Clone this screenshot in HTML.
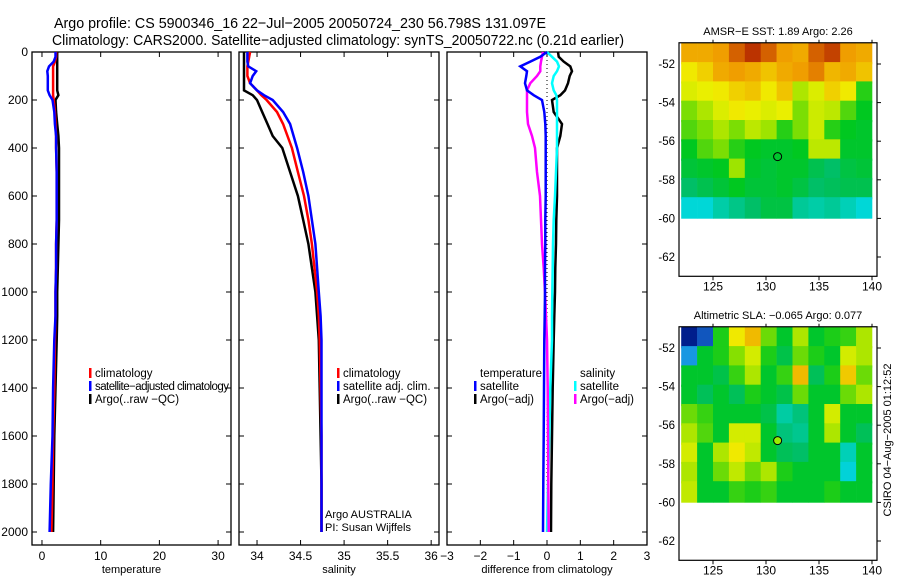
<!DOCTYPE html>
<html><head><meta charset="utf-8"><style>
body{margin:0;background:#fff;}
svg{display:block;font-family:"Liberation Sans",sans-serif;}
</style></head><body>
<svg id="c" width="900" height="580" viewBox="0 0 900 580" xmlns="http://www.w3.org/2000/svg">
<text x="54" y="28" font-size="15" textLength="492" lengthAdjust="spacingAndGlyphs">Argo profile: CS 5900346_16 22−Jul−2005 20050724_230 56.798S 131.097E</text>
<text x="52" y="45" font-size="15" textLength="572" lengthAdjust="spacingAndGlyphs">Climatology: CARS2000. Satellite−adjusted climatology: synTS_20050722.nc (0.21d earlier)</text>
<g id="g"></g>
</svg>
<script>
const depths=[0,20,40,60,80,100,130,160,180,200,250,300,350,400,500,600,700,800,900,1000,1100,1200,1400,1600,1800,2000];
const tempClim=[2.4,2.4,2.2,1.9,1.9,1.9,1.9,1.9,1.9,2.0,2.2,2.3,2.4,2.4,2.5,2.5,2.5,2.4,2.4,2.3,2.3,2.2,2.1,1.9,1.8,1.6];
const tempSat=[2.3,2.3,2.0,1.2,0.9,1.0,1.0,1.0,1.3,1.8,2.1,2.2,2.4,2.4,2.5,2.5,2.5,2.4,2.4,2.3,2.3,2.1,1.9,1.8,1.5,1.3];
const tempArgo=[2.6,2.6,2.6,2.6,2.6,2.6,2.6,2.6,2.8,2.3,2.4,2.6,2.8,2.9,2.9,2.9,2.9,2.8,2.7,2.6,2.6,2.5,2.3,2.1,2.0,1.9];
const salClim=[33.92,33.91,33.9,33.89,33.89,33.89,33.92,34.0,34.05,34.11,34.23,34.3,34.35,34.4,34.47,34.54,34.59,34.63,34.66,34.69,34.71,34.72,34.73,34.74,34.74,34.74];
const salSat=[33.89,33.89,33.89,33.9,33.99,33.95,33.92,34.0,34.08,34.18,34.3,34.38,34.42,34.46,34.53,34.59,34.63,34.67,34.69,34.71,34.73,34.74,34.74,34.74,34.74,34.74];
const salArgo=[33.85,33.85,33.85,33.85,33.85,33.85,33.85,33.85,33.95,34.0,34.06,34.12,34.18,34.29,34.38,34.47,34.53,34.59,34.63,34.67,34.69,34.71,34.72,34.73,34.74,34.74];
const dTempSat=[0,-0.2,-0.5,-0.8,-0.6,-0.62,-0.66,-0.6,-0.4,-0.15,-0.08,-0.05,-0.04,-0.04,-0.04,-0.04,-0.05,-0.05,-0.06,-0.06,-0.07,-0.08,-0.09,-0.1,-0.11,-0.12];
const dTempArgo=[0.33,0.35,0.5,0.7,0.75,0.68,0.63,0.54,0.4,0.15,0.2,0.45,0.4,0.3,0.3,0.3,0.28,0.27,0.25,0.24,0.22,0.2,0.17,0.15,0.13,0.12];
const dSalSat=[0,0.15,0.3,0.36,0.3,0.2,0.15,0.2,0.28,0.3,0.3,0.3,0.3,0.3,0.27,0.24,0.2,0.18,0.17,0.16,0.15,0.15,0.1,0.07,0.03,0];
const dSalArgo=[-0.12,-0.15,-0.18,-0.2,-0.2,-0.3,-0.5,-0.6,-0.6,-0.6,-0.6,-0.57,-0.45,-0.36,-0.3,-0.21,-0.18,-0.15,-0.1,-0.06,-0.03,0,0.02,0.03,0.04,0.05];
const depthTicks=[0,200,400,600,800,1000,1200,1400,1600,1800,2000];
const tempTicks=[0,10,20,30];
const salTicks=[34,34.5,35,35.5,36];
const diffTicks=[-3,-2,-1,0,1,2,3];
const mapLons=[122.75,124.25,125.75,127.25,128.75,130.25,131.75,133.25,134.75,136.25,137.75,139.25];
const mapLats=[-51.5,-52.5,-53.5,-54.5,-55.5,-56.5,-57.5,-58.5,-59.5];
const sstGrid=[
[3.5,3.5,3.6,4.0,4.3,4.0,3.6,3.5,4.0,4.2,3.6,3.5],
[3.0,3.2,3.5,3.6,3.5,3.3,3.5,3.6,3.8,3.4,3.5,3.3],
[2.8,2.9,3.0,3.2,3.3,3.0,3.3,2.5,2.8,3.2,3.0,1.8],
[2.2,2.5,2.8,3.0,2.9,2.8,2.9,2.2,2.7,2.6,2.0,1.6],
[2.0,2.2,2.5,2.2,2.6,2.4,1.8,2.2,2.7,1.8,1.6,1.5],
[1.6,2.0,2.2,1.8,1.6,1.5,1.5,1.6,2.6,2.6,1.5,1.5],
[1.4,1.5,1.6,2.4,1.5,1.4,1.5,1.5,1.2,1.0,1.3,1.4],
[1.0,1.2,1.4,1.6,1.4,1.4,1.5,1.3,1.0,1.1,1.2,1.2],
[0.3,0.3,0.6,0.8,1.0,1.3,1.3,0.7,0.6,0.7,0.5,0.3]];
const slaGrid=[
[-0.35,-0.2,0.02,0.12,0.15,0.05,0.0,0.08,0.0,0.02,0.03,0.08],
[-0.15,0.0,0.02,0.06,0.1,0.02,-0.02,0.05,0.02,0.0,0.1,0.08],
[0.0,0.0,-0.02,0.03,0.08,0.0,0.03,0.15,-0.03,0.02,0.14,0.05],
[0.0,-0.03,0.0,-0.03,0.02,0.0,-0.02,0.05,0.0,0.0,0.05,0.08],
[0.05,0.03,0.0,0.0,0.0,-0.02,-0.07,-0.05,0.0,0.1,0.0,0.0],
[0.08,0.04,0.0,0.1,0.1,0.0,-0.05,-0.06,0.0,0.08,0.0,-0.03],
[0.1,0.0,0.08,0.12,0.09,0.0,-0.03,-0.04,0.0,0.0,-0.08,0.0],
[0.08,0.0,0.05,0.09,0.05,0.08,0.02,0.0,0.0,0.0,-0.1,0.0],
[0.09,0.0,0.0,0.03,0.02,0.03,0.0,0.0,0.0,0.02,0.0,0.0]];
const floatLon=131.097, floatLat=-56.798;
const latTicks=[-52,-54,-56,-58,-60,-62];
const lonTicks=[125,130,135,140];

const NS='http://www.w3.org/2000/svg';
const G=document.getElementById('g');
function el(t,a,p){const e=document.createElementNS(NS,t);for(const k in a)e.setAttribute(k,a[k]);(p||G).appendChild(e);return e;}
const yD=d=>52+d*0.24;
const PT={x0:32,x1:231,v0:-1.7,v1:32.2};
const PS={x0:239,x1:439,v0:33.793,v1:36.09};
const PD={x0:447,x1:647,v0:-3,v1:3};
const sx=(P,v)=>P.x0+(v-P.v0)/(P.v1-P.v0)*(P.x1-P.x0);
const TOP=52,BOT=545;
function panel(P,name,ticks,fmt,title,showY){
  const r=el('rect',{x:P.x0,y:TOP,width:P.x1-P.x0,height:BOT-TOP,fill:'none',stroke:'#000','stroke-width':1.3});
  
  
  ticks.forEach(t=>{const x=sx(P,t);
    el('line',{x1:x,y1:BOT,x2:x,y2:BOT-5,stroke:'#000'});el('line',{x1:x,y1:TOP,x2:x,y2:TOP+5,stroke:'#000'});
    const tx=el('text',{x:x,y:560,'font-size':12,'text-anchor':'middle'});tx.textContent=fmt(t);
    
    });
  depthTicks.forEach(d=>{const y=yD(d);
    el('line',{x1:P.x0,y1:y,x2:P.x0+5,y2:y,stroke:'#000'});el('line',{x1:P.x1,y1:y,x2:P.x1-5,y2:y,stroke:'#000'});
    if(showY){const tx=el('text',{x:28,y:y+4,'font-size':12,'text-anchor':'end'});tx.textContent=d;
      
      }});
  const tt=el('text',{x:(P.x0+P.x1)/2,y:573,'font-size':11,'text-anchor':'middle'});tt.textContent=title;
  
  
}
function line(P,vals,col,name,w){
  const pts=vals.map((v,i)=>sx(P,v).toFixed(1)+','+yD(depths[i]).toFixed(1)).join(' ');
  const l=el('polyline',{points:pts,fill:'none',stroke:col,'stroke-width':w||2.5});
  
  
}
function legend(x,rows){rows.forEach((r,i)=>{const y=377+i*13;
  if(r[1]){const m=el('rect',{x:x,y:y-9,width:2.5,height:10,fill:r[1]});
    
    }
  const a={x:x+6,y:y,'font-size':11.5};if(r[2])a.textLength=r[2];
  const t=el('text',a);t.textContent=r[0];
  
  });}

panel(PT,'temperature-panel',tempTicks,t=>t,'temperature',true);
line(PT,tempArgo,'#000','temp-argo-line');line(PT,tempClim,'#f00','temp-climatology-line');line(PT,tempSat,'#00f','temp-satellite-line');
legend(89,[['climatology','#f00'],['satellite−adjusted climatology','#00f',134],['Argo(..raw −QC)','#000']]);

panel(PS,'salinity-panel',salTicks,t=>t,'salinity',false);
line(PS,salArgo,'#000','sal-argo-line');line(PS,salClim,'#f00','sal-climatology-line');line(PS,salSat,'#00f','sal-satellite-line');
legend(337,[['climatology','#f00'],['satellite adj. clim.','#00f'],['Argo(..raw −QC)','#000']]);
[['Argo AUSTRALIA',518],['PI: Susan Wijffels',531]].forEach(a=>{const t=el('text',{x:325,y:a[1],'font-size':11});t.textContent=a[0];
  
  });

panel(PD,'difference-panel',diffTicks,t=>t<0?'−'+(-t):t,'difference from climatology',false);
el('line',{x1:sx(PD,0),y1:TOP,x2:sx(PD,0),y2:yD(2000),stroke:'#000','stroke-dasharray':'1,3'});
line(PD,dTempArgo,'#000','diff-temp-argo-line');line(PD,dSalSat,'#0ff','diff-sal-satellite-line');line(PD,dSalArgo,'#f0f','diff-sal-argo-line');line(PD,dTempSat,'#00f','diff-temp-satellite-line');
legend(474,[['temperature',null],['satellite','#00f'],['Argo(−adj)','#000']]);
legend(574,[['salinity',null],['satellite','#0ff'],['Argo(−adj)','#f0f']]);

function jet(t){t=Math.max(0,Math.min(1,t));
  const stops=[[0,[0,30,140]],[0.15,[30,130,230]],[0.3,[0,215,215]],[0.42,[0,190,100]],[0.52,[0,200,30]],[0.63,[140,225,0]],[0.74,[240,240,0]],[0.86,[240,150,0]],[1,[170,20,0]]];
  for(let i=1;i<stops.length;i++){if(t<=stops[i][0]){const a=stops[i-1],b=stops[i],f=(t-a[0])/(b[0]-a[0]);
    return 'rgb('+a[1].map((c,k)=>Math.round(c+(b[1][k]-c)*f)).join(',')+')';}}return 'rgb(170,20,0)';}
function map(oy,grid,vmin,vmax,title,name){
  const X0=679,X1=877,lx=lon=>713+(lon-125)*10.6, ly=lat=>oy+(lat+52)*(-19.3);
  grid.forEach((row,r)=>row.forEach((v,c)=>{
    const x=Math.max(X0,lx(mapLons[c]-0.75)),x2=Math.min(X1,lx(mapLons[c]+0.75));
    const y=ly(mapLats[r]+0.6),y2=ly(mapLats[r]-0.5);
    const yy=Math.max(y,ly(-50.9));
    const cell=el('rect',{x:x.toFixed(1),y:yy.toFixed(1),width:(x2-x+0.3).toFixed(1),height:(y2-yy+0.3).toFixed(1),fill:jet((v-vmin)/(vmax-vmin))});
    
    }));
  const top=ly(-50.9),bot=ly(-63.0);
  const fr=el('rect',{x:X0,y:top,width:X1-X0,height:bot-top,fill:'none',stroke:'#000','stroke-width':1.2});
  
  
  latTicks.forEach(l=>{const y=ly(l);el('line',{x1:X1,y1:y,x2:X1+4,y2:y,stroke:'#000'});
    const t=el('text',{x:675,y:y+4,'font-size':11.5,'text-anchor':'end'});t.textContent='-'+(-l);
    
    });
  lonTicks.forEach(l=>{const x=lx(l);el('line',{x1:x,y1:bot,x2:x,y2:bot+4,stroke:'#000'});el('line',{x1:x,y1:top,x2:x,y2:top-3,stroke:'#000'});
    const t=el('text',{x:x,y:bot+14,'font-size':12,'text-anchor':'middle'});t.textContent=l;
    
    });
  const c=el('circle',{cx:lx(floatLon),cy:ly(floatLat),r:4,fill:name==='sla-map'?'#9e0':'none',stroke:'#000','stroke-width':1});
  
  
  const tt=el('text',{x:778,y:top-8,'font-size':11,'text-anchor':'middle'});tt.textContent=title;
  
  
}
map(64,sstGrid,-1.5,4.5,'AMSR−E SST: 1.89 Argo: 2.26','sst-map');
map(348,slaGrid,-0.24,0.24,'Altimetric SLA: −0.065 Argo: 0.077','sla-map');
const st=el('text',{x:0,y:0,'font-size':11,'text-anchor':'middle',transform:'translate(891,440) rotate(-90)'});st.textContent='CSIRO 04−Aug−2005 01:12:52';


</script>
</body></html>
